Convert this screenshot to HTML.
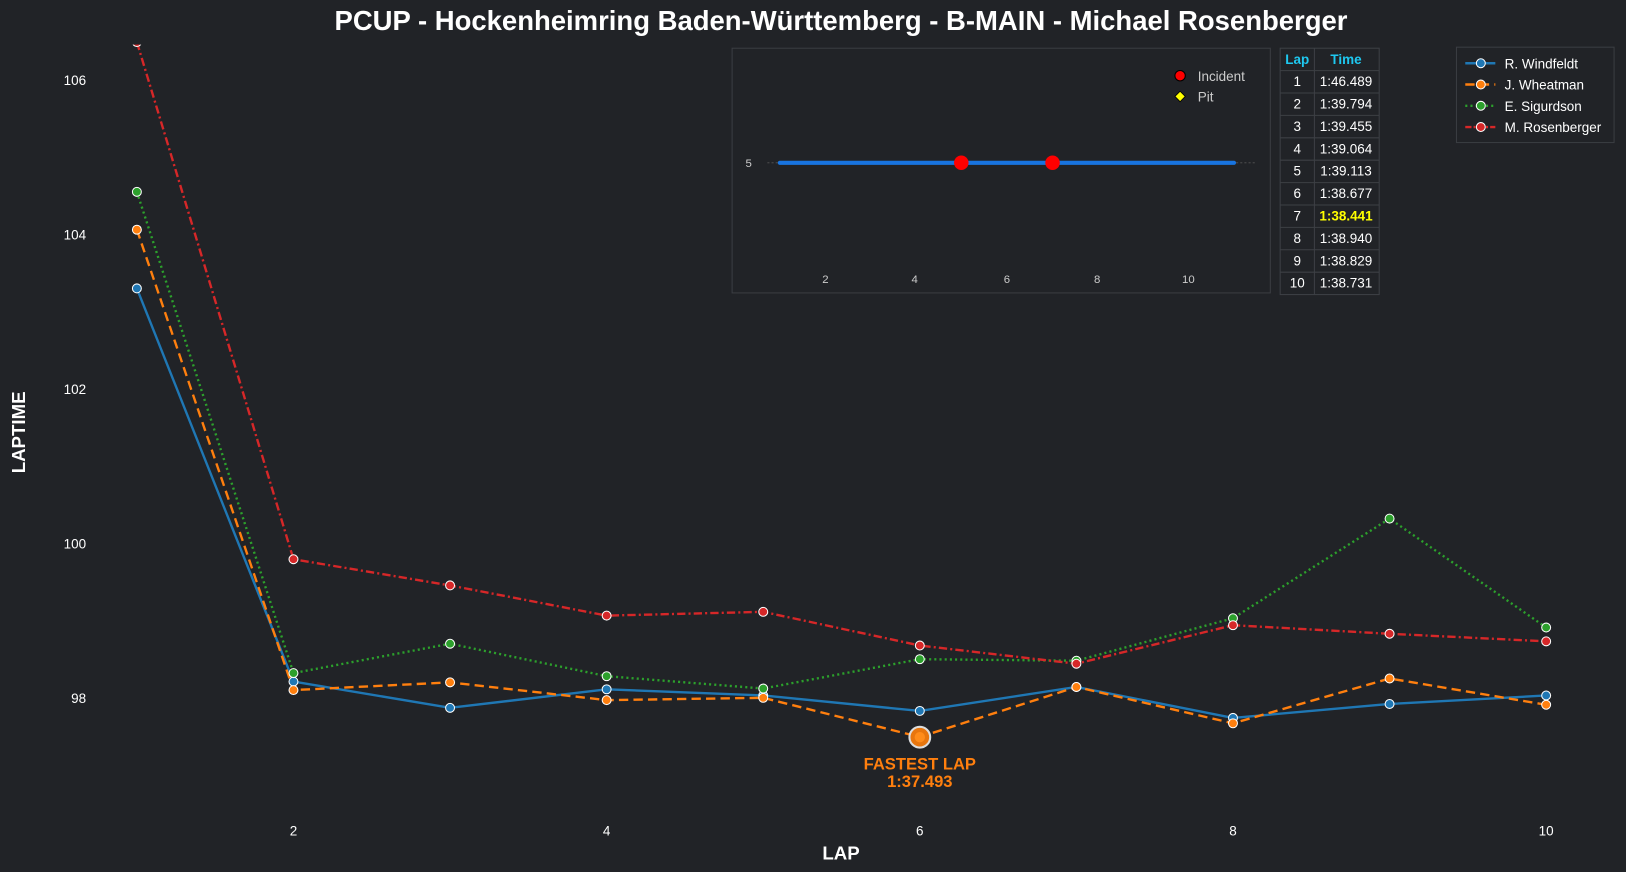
<!DOCTYPE html>
<html><head><meta charset="utf-8"><style>
body{margin:0;background:#212327;}
svg{display:block;font-family:"Liberation Sans",Arial,sans-serif;}
</style></head><body>
<svg id="s" width="1626" height="872" viewBox="0 0 1568 841" preserveAspectRatio="none" xmlns="http://www.w3.org/2000/svg">
<rect width="1568" height="841" fill="#212327"/>
<defs><clipPath id="c"><rect x="100" y="43" width="1430" height="760"/></clipPath></defs>
<text x="811" y="29" text-anchor="middle" font-size="26.5" font-weight="bold" fill="#fff">PCUP - Hockenheimring Baden-Württemberg - B-MAIN - Michael Rosenberger</text>
<g font-size="13" fill="#fff">
<text x="83" y="82" text-anchor="end">106</text>
<text x="83" y="231" text-anchor="end">104</text>
<text x="83" y="380" text-anchor="end">102</text>
<text x="83" y="529" text-anchor="end">100</text>
<text x="83" y="678" text-anchor="end">98</text>
<text x="283" y="806" text-anchor="middle">2</text>
<text x="585" y="806" text-anchor="middle">4</text>
<text x="887" y="806" text-anchor="middle">6</text>
<text x="1189" y="806" text-anchor="middle">8</text>
<text x="1491" y="806" text-anchor="middle">10</text>
</g>
<text x="811" y="829" text-anchor="middle" font-size="18" font-weight="bold" fill="#fff">LAP</text>
<text transform="translate(24,417) rotate(-90)" text-anchor="middle" font-size="18" font-weight="bold" fill="#fff">LAPTIME</text>
<g id="plot" clip-path="url(#c)"></g>
<circle cx="887" cy="711" r="10" fill="#e8760e" stroke="#ddd" stroke-width="2"/>
<circle cx="887" cy="711" r="5" fill="#ff8c1a"/>
<text x="887" y="742" text-anchor="middle" font-size="16" font-weight="bold" fill="#ff7f0e">FASTEST LAP</text>
<text x="887" y="759" text-anchor="middle" font-size="16" font-weight="bold" fill="#ff7f0e">1:37.493</text>
<rect x="706" y="46.5" width="519" height="236" fill="#212327" stroke="#3a3d42" stroke-width="1"/>
<line x1="740" y1="157" x2="1212" y2="157" stroke="#555" stroke-width="0.8" stroke-dasharray="2,2"/>
<line x1="752" y1="157" x2="1190" y2="157" stroke="#1874e0" stroke-width="4" stroke-linecap="round"/>
<circle cx="927" cy="157" r="7" fill="#f00"/>
<circle cx="1015" cy="157" r="7" fill="#f00"/>
<text x="725" y="161" text-anchor="end" font-size="11" fill="#ccc">5</text>
<g font-size="11" fill="#ccc" text-anchor="middle">
<text x="796" y="273">2</text><text x="882" y="273">4</text><text x="971" y="273">6</text><text x="1058" y="273">8</text><text x="1146" y="273">10</text></g>
<circle cx="1138" cy="73" r="5" fill="#f00" stroke="#000" stroke-width="1"/>
<text x="1155" y="78" font-size="13" fill="#ccc">Incident</text>
<path d="M1138,88 l5,5 l-5,5 l-5,-5z" fill="#ff0" stroke="#000" stroke-width="0.8"/>
<text x="1155" y="98" font-size="13" fill="#ccc">Pit</text>
<g id="tbl"></g>
<rect x="1404.5" y="45.5" width="152" height="92" fill="#212327" stroke="#3a3d42"/>
<g id="leg"></g>
</svg>
<script>
(function(){
var NS="http://www.w3.org/2000/svg";
function el(p,t,a,txt){var e=document.createElementNS(NS,t);for(var k in a)e.setAttribute(k,a[k]);if(txt!==undefined)e.textContent=txt;p.appendChild(e);return e;}
function X(l){return 132+(l-1)*151;}
function Y(v){return 673-(v-98)*74.5;}
var series=[
 {c:"#1f77b4",d:"",v:[103.3,98.21,97.87,98.11,98.03,97.83,98.14,97.74,97.92,98.03]},
 {c:"#ff7f0e",d:"9,5",v:[104.06,98.1,98.2,97.97,98.0,97.493,98.14,97.67,98.25,97.91]},
 {c:"#2ca02c",d:"2,3",v:[104.55,98.32,98.7,98.28,98.12,98.5,98.48,99.03,100.32,98.91]},
 {c:"#d62728",d:"8,3,2,3",v:[106.489,99.794,99.455,99.064,99.113,98.677,98.441,98.940,98.829,98.731]}];
var plot=document.getElementById("plot");
series.forEach(function(s){
 var pts=s.v.map(function(v,i){return X(i+1)+","+Y(v);}).join(" ");
 var a={points:pts,fill:"none",stroke:s.c,"stroke-width":2.3};
 if(s.d)a["stroke-dasharray"]=s.d;
 el(plot,"polyline",a);
});
series.forEach(function(s){s.v.forEach(function(v,i){el(plot,"circle",{cx:X(i+1),cy:Y(v),r:4.3,fill:s.c,stroke:"#fff","stroke-width":1});});});
var tbl=document.getElementById("tbl");
var times=["1:46.489","1:39.794","1:39.455","1:39.064","1:39.113","1:38.677","1:38.441","1:38.940","1:38.829","1:38.731"];
var T0=46.5,h=21.6;
el(tbl,"rect",{x:1234.5,y:T0,width:95.5,height:h*11,fill:"#212327",stroke:"#3d4045"});
for(var r=1;r<11;r++)el(tbl,"line",{x1:1234.5,x2:1330,y1:T0+h*r,y2:T0+h*r,stroke:"#3d4045"});
el(tbl,"line",{x1:1267.5,x2:1267.5,y1:T0,y2:T0+h*11,stroke:"#3d4045"});
el(tbl,"text",{x:1251,y:T0+15,"text-anchor":"middle","font-size":13,"font-weight":"bold",fill:"#1ec8f0"},"Lap");
el(tbl,"text",{x:1298,y:T0+15,"text-anchor":"middle","font-size":13,"font-weight":"bold",fill:"#1ec8f0"},"Time");
times.forEach(function(t,i){var y=T0+h*(i+1)+15;var b=(i==6);
 el(tbl,"text",{x:1251,y:y,"text-anchor":"middle","font-size":13,fill:"#fff"},String(i+1));
 el(tbl,"text",{x:1298,y:y,"text-anchor":"middle","font-size":13,fill:b?"#ff0":"#fff","font-weight":b?"bold":"normal"},t);});
var leg=document.getElementById("leg");
var names=["R. Windfeldt","J. Wheatman","E. Sigurdson","M. Rosenberger"];
series.forEach(function(s,i){var y=61+i*20.5;
 var a={x1:1413,x2:1442,y1:y,y2:y,stroke:s.c,"stroke-width":2.3};if(s.d)a["stroke-dasharray"]=(i==3)?"6,2,2,2":s.d;
 el(leg,"line",a);el(leg,"circle",{cx:1428,cy:y,r:4.3,fill:s.c,stroke:"#fff","stroke-width":1});
 el(leg,"text",{x:1451,y:y+5,"font-size":13,fill:"#fff"},names[i]);});
})();
</script>
</body></html>
